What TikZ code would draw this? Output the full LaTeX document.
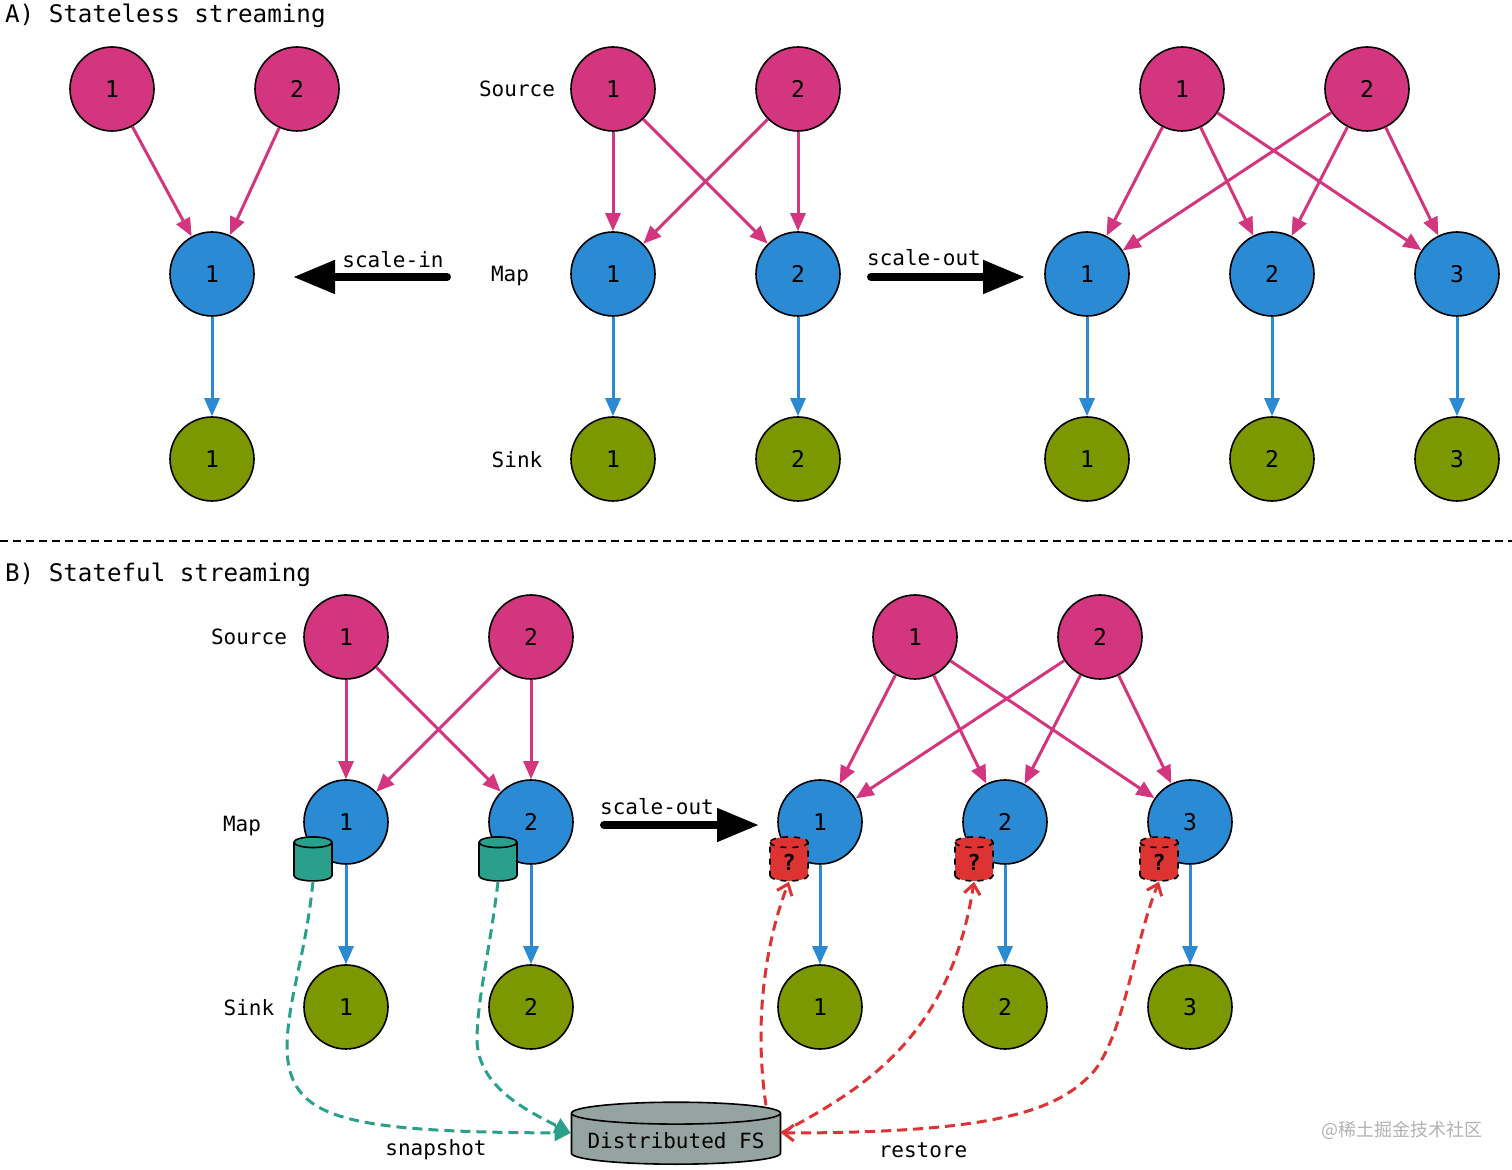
\documentclass[tikz,border=0pt]{standalone}
\usepackage{fontspec}
\setmainfont{DejaVu Sans Mono}
\newfontfamily\cjkfont{Noto Sans CJK SC}
\usetikzlibrary{arrows.meta,shapes.geometric,calc}
\definecolor{srcpink}{HTML}{D4357F}
\definecolor{mapblue}{HTML}{2A8AD4}
\definecolor{sinkolive}{HTML}{7C9700}
\definecolor{snapteal}{HTML}{2AA08C}
\definecolor{restred}{HTML}{DE3333}
\definecolor{fsgray}{HTML}{96A4A1}
\tikzset{
  op/.style={circle,draw,line width=0.8pt,minimum size=42pt,inner sep=0pt,
    font=\fontsize{11.5}{13}\selectfont},
  src/.style={op,fill=srcpink},
  map/.style={op,fill=mapblue},
  sink/.style={op,fill=sinkolive},
  edge/.style={line width=1.5pt,-{Triangle[length=9pt,width=7.5pt]}},
  fwd/.style={edge,draw=srcpink},
  down/.style={edge,draw=mapblue},
  tag/.style={font=\fontsize{10.5}{12}\selectfont},
  rescale/.style={line width=4pt,line cap=round,-{Triangle[length=21pt,width=16pt]}},
  state/.style={cylinder,shape border rotate=90,draw,line width=0.8pt,aspect=0.8,
    minimum width=19pt,minimum height=22pt,inner sep=0pt,
    font=\bfseries\fontsize{11}{12}\selectfont},
  snap/.style={draw=snapteal,line width=1.5pt,dash pattern=on 5pt off 3pt,
    -{Triangle[length=8pt,width=8pt]}},
  barb/.tip={Straight Barb[length=5pt,width=8pt,line width=1.5pt]},
  rest/.style={draw=restred,line width=1.5pt,dash pattern=on 5pt off 3pt,-barb},
}

\begin{document}
\begin{tikzpicture}[x=0.5pt,y=-0.5pt]
  \useasboundingbox (0,0) rectangle (1512,1170);

  % A) stateless
  \node[anchor=west,font=\fontsize{12.1}{14}\selectfont] (titleA) at (-2,16) {A) Stateless streaming};
  \node[src] (la1) at (112,89) {1};
  \node[src] (la2) at (297,89) {2};
  \node[map] (lm1) at (212,274) {1};
  \node[sink] (lk1) at (212,459) {1};
  \draw[fwd] (la1) -- (lm1);
  \draw[fwd] (la2) -- (lm1);
  \draw[down] (lm1) -- (lk1);

  \coordinate (inA) at (447,277);
  \coordinate (inB) at (293,277);
  \draw[rescale] (inA) -- (inB);
  \node[tag] (intag) at (393,260) {scale-in};

  \node[tag] (srcA) at (517,89) {Source};
  \node[tag] (mapA) at (510,276) {Map};
  \node[tag] (sinkA) at (517,460) {Sink};
  \foreach \i/\x in {1/613,2/798} {
    \node[src] (ms\i) at (\x,89) {\i};
    \node[map] (mm\i) at (\x,274) {\i};
    \node[sink] (mk\i) at (\x,459) {\i};
    \draw[down] (mm\i) -- (mk\i);
  }
  \foreach \s in {1,2}
    \foreach \m in {1,2}
      \draw[fwd] (ms\s) -- (mm\m);

  \coordinate (outA) at (871,277);
  \coordinate (outB) at (1025,277);
  \draw[rescale] (outA) -- (outB);
  \node[tag] (outtag) at (924,258) {scale-out};

  \node[src] (rs1) at (1182,89) {1};
  \node[src] (rs2) at (1367,89) {2};
  \foreach \i/\x in {1/1087,2/1272,3/1457} {
    \node[map] (rm\i) at (\x,274) {\i};
    \node[sink] (rk\i) at (\x,459) {\i};
    \draw[down] (rm\i) -- (rk\i);
  }
  \foreach \s in {1,2}
    \foreach \m in {1,2,3}
      \draw[fwd] (rs\s) -- (rm\m);

  % separator
  \coordinate (sepL) at (0,541);
  \coordinate (sepR) at (1512,541);
  \draw[line width=0.7pt,dash pattern=on 4pt off 2.5pt] (sepL) -- (sepR);

  % B) stateful
  \node[anchor=west,font=\fontsize{12.1}{14}\selectfont] (titleB) at (-2,575) {B) Stateful streaming};
  \node[tag] (srcB) at (249,637) {Source};
  \node[tag] (mapB) at (242,826) {Map};
  \node[tag] (sinkB) at (249,1008) {Sink};
  \foreach \i/\x in {1/346,2/531} {
    \node[src] (bs\i) at (\x,637) {\i};
    \node[map] (bm\i) at (\x,822) {\i};
    \node[sink] (bk\i) at (\x,1007) {\i};
    \draw[down] (bm\i) -- (bk\i);
    \node[state,fill=snapteal] (st\i) at (\x-33,862) {\phantom{?}};
  }
  \foreach \s in {1,2}
    \foreach \m in {1,2}
      \draw[fwd] (bs\s) -- (bm\m);

  \coordinate (outC) at (604,825);
  \coordinate (outD) at (759,825);
  \draw[rescale] (outC) -- (outD);
  \node[tag] (outtagB) at (657,807) {scale-out};

  \node[src] (cs1) at (915,637) {1};
  \node[src] (cs2) at (1100,637) {2};
  \foreach \i/\x in {1/820,2/1005,3/1190} {
    \node[map] (cm\i) at (\x,822) {\i};
    \node[sink] (ck\i) at (\x,1007) {\i};
    \draw[down] (cm\i) -- (ck\i);
    \node[state,fill=restred,dashed] (rq\i) at (\x-31,862) {?};
  }
  \foreach \s in {1,2}
    \foreach \m in {1,2,3}
      \draw[fwd] (cs\s) -- (cm\m);

  % storage
  \node[cylinder,shape border rotate=90,draw,line width=0.8pt,fill=fsgray,aspect=0.115,
    minimum width=104.5pt,minimum height=31pt,tag] (fs) at (676,1141) {Distributed FS};
  \coordinate (fsin) at ($(fs.west)+(0,-8)$);
  \coordinate (fsout) at ($(fs.east)+(0,-8)$);
  \coordinate (fstop) at ($(fs.north)+(90,4)$);

  \draw[snap] (st1.south) .. controls (305,960) and (287,1000) .. (287,1050)
    .. controls (290,1118) and (340,1132) .. (fsin);
  \draw[snap] (st2.south) .. controls (490,950) and (477,1000) .. (477,1040)
    .. controls (478,1088) and (530,1112) .. (fsin);
  \node[tag] (snaptag) at (436,1150) {snapshot};

  \draw[rest] (fstop) .. controls (752,1010) and (770,930) .. (rq1.south);
  \draw[rest] (fsout) .. controls (860,1090) and (950,1040) .. (rq2.south);
  \draw[rest,barb-barb] (fsout) .. controls (1000,1133) and (1060,1110) .. (1095,1070)
    .. controls (1125,1030) and (1135,940) .. (rq3.south);
  \node[tag] (resttag) at (923,1150) {restore};

  \node[font=\cjkfont\fontsize{9}{10}\selectfont,text=black!30] (mark) at (1402,1130) {@稀土掘金技术社区};
\end{tikzpicture}
\end{document}
